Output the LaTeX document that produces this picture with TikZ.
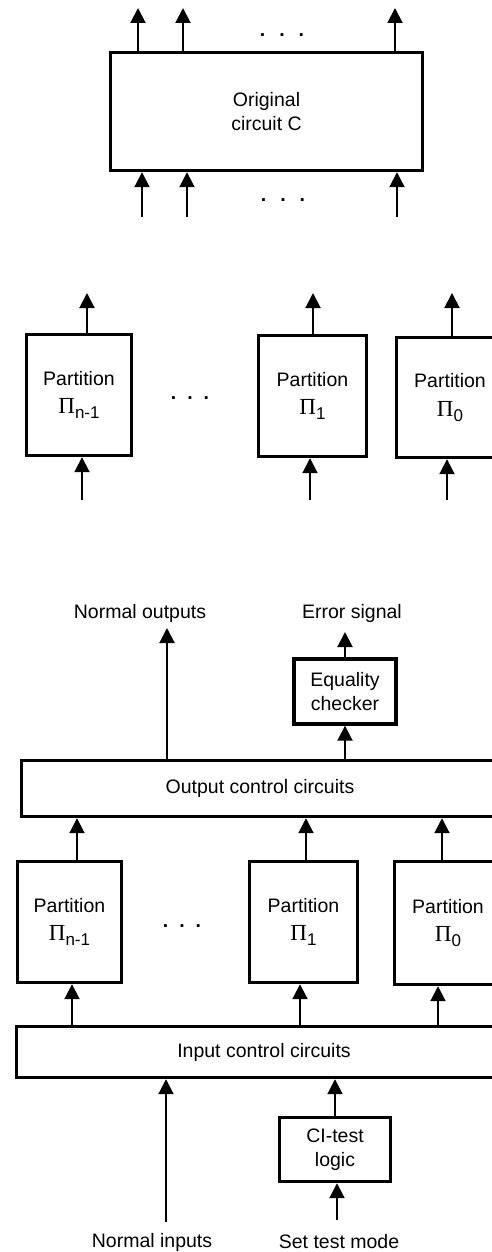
\documentclass[tikz,border=0pt]{standalone}
\usepackage{fontspec}
\setmainfont{Liberation Sans}
\newfontfamily\greekfont{Liberation Serif}
\usetikzlibrary{arrows.meta, positioning}
\tikzset{
  blockbox/.style={draw=black, line width=3.4pt, fill=white, align=center, inner sep=2pt},
  sigarrow/.style={-{Triangle[length=15pt, width=15pt]}, line width=2pt},
  labeltext/.style={align=center, inner sep=0pt},
  dotsrow/.style={font=\bfseries\fontsize{19.5}{24}\selectfont, inner sep=0pt},
}
\newcommand{\partlbl}[1]{Partition\\[4pt]{\greekfont\fontsize{23}{24}\selectfont Π}\raisebox{-5pt}{\fontsize{17}{18}\selectfont #1}}

\begin{document}
\begin{tikzpicture}[x=1pt, y=-1pt, font=\fontsize{19.5}{24.5}\selectfont]
  \useasboundingbox (0,0) rectangle (492,1252);
  \clip (0,0) rectangle (492,1252);

  % original circuit
  \node[blockbox, minimum width=312pt, minimum height=118pt] (C) at (266.5,111.5) {Original\\circuit C};
  \coordinate (co1) at (138,8);
  \coordinate (co2) at (183,8);
  \coordinate (co3) at (395,8);
  \coordinate (ci1) at (142,217);
  \coordinate (ci2) at (187,217);
  \coordinate (ci3) at (397,217);
  \draw[sigarrow] (C.north -| co1) -- (co1);
  \draw[sigarrow] (C.north -| co2) -- (co2);
  \draw[sigarrow] (C.north -| co3) -- (co3);
  \draw[sigarrow] (ci1) -- (ci1 |- C.south);
  \draw[sigarrow] (ci2) -- (ci2 |- C.south);
  \draw[sigarrow] (ci3) -- (ci3 |- C.south);
  \node[dotsrow] (cdotsout) at (282,35) {.\hspace{14pt}.\hspace{14pt}.};
  \node[dotsrow] (cdotsin) at (283,200) {.\hspace{14pt}.\hspace{14pt}.};

  % partitions alone
  \node[blockbox, minimum width=105pt, minimum height=121pt] (PA) at (79,395) {\partlbl{n-1}};
  \node[blockbox, minimum width=108pt, minimum height=121pt] (PB) at (312.5,396) {\partlbl{1}};
  \node[blockbox, minimum width=107pt, minimum height=120pt] (PC) at (450,397.5) {\partlbl{0}};
  \coordinate (pao) at (87,293);
  \coordinate (pbo) at (313,293);
  \coordinate (pco) at (452,293);
  \coordinate (pai) at (82,500);
  \coordinate (pbi) at (310,500);
  \coordinate (pci) at (447,500);
  \draw[sigarrow] (PA.north -| pao) -- (pao);
  \draw[sigarrow] (PB.north -| pbo) -- (pbo);
  \draw[sigarrow] (PC.north -| pco) -- (pco);
  \draw[sigarrow] (pai) -- (pai |- PA.south);
  \draw[sigarrow] (pbi) -- (pbi |- PB.south);
  \draw[sigarrow] (pci) -- (pci |- PC.south);
  \node[dotsrow] (pdots) at (190,398) {.\hspace{11pt}.\hspace{11pt}.};

  % checked circuit
  \node[labeltext] (nout) at (140,613) {Normal outputs};
  \node[labeltext] (errsig) at (352,613) {Error signal};
  \coordinate (noutend) at (167,628);
  \coordinate (errend) at (345,632);
  \node[blockbox, minimum width=477pt, minimum height=56pt] (OC) at (260,788.5) {Output control circuits};
  \node[blockbox, minimum width=102pt, minimum height=65pt] (EQ) at (345,691.5) {Equality\\checker};
  \draw[sigarrow] (OC.north -| noutend) -- (noutend);
  \draw[sigarrow] (OC.north -| EQ) -- (EQ.south);
  \draw[sigarrow] (EQ.north) -- (errend);

  \node[blockbox, minimum width=104pt, minimum height=121pt] (QA) at (69.5,922) {\partlbl{n-1}};
  \node[blockbox, minimum width=108pt, minimum height=121pt] (QB) at (303.5,922) {\partlbl{1}};
  \node[blockbox, minimum width=107pt, minimum height=123pt] (QC) at (448,923) {\partlbl{0}};
  \node[dotsrow] (qdots) at (182,926) {.\hspace{11pt}.\hspace{11pt}.};
  \draw[sigarrow] ([xshift=7.5pt]QA.north) -- ([xshift=7.5pt]QA.north |- OC.south);
  \draw[sigarrow] ([xshift=2.5pt]QB.north) -- ([xshift=2.5pt]QB.north |- OC.south);
  \draw[sigarrow] ([xshift=-6pt]QC.north) -- ([xshift=-6pt]QC.north |- OC.south);

  \node[blockbox, minimum width=495pt, minimum height=51pt] (IC) at (264,1052) {Input control circuits};
  \draw[sigarrow] ([xshift=2.5pt]QA.south |- IC.north) -- ([xshift=2.5pt]QA.south);
  \draw[sigarrow] ([xshift=-3.5pt]QB.south |- IC.north) -- ([xshift=-3.5pt]QB.south);
  \draw[sigarrow] ([xshift=-10pt]QC.south |- IC.north) -- ([xshift=-10pt]QC.south);

  \node[blockbox, minimum width=111pt, minimum height=64pt] (CI) at (335,1149.5) {CI-test\\logic};
  \draw[sigarrow] (CI.north) -- (CI.north |- IC.south);
  \coordinate (ninstart) at (166,1222);
  \coordinate (setstart) at (337,1220);
  \draw[sigarrow] (ninstart) -- (ninstart |- IC.south);
  \draw[sigarrow] (setstart) -- (setstart |- CI.south);
  \node[labeltext] (nin) at (152,1242) {Normal inputs};
  \node[labeltext] (settest) at (339,1242) {Set test mode};
\end{tikzpicture}
\end{document}
